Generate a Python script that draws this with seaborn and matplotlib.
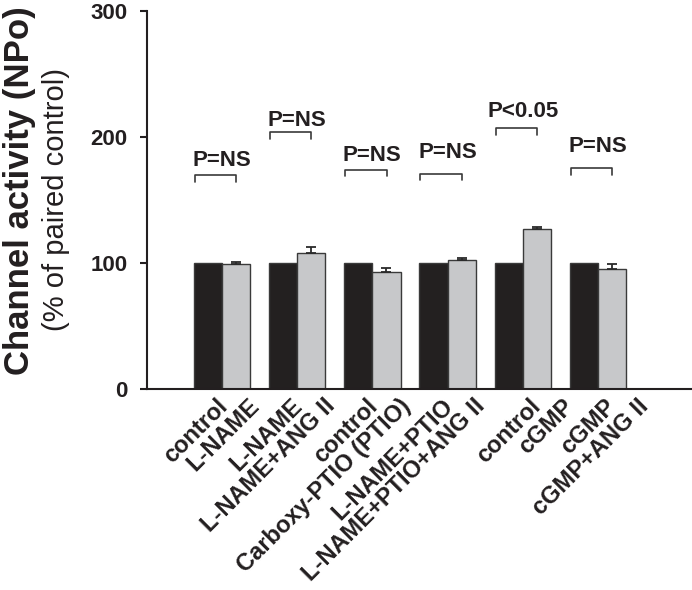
# Channel activity bar chart (paired control vs treatment)
import matplotlib
matplotlib.use('Agg')
import matplotlib.pyplot as plt
import matplotlib.transforms as mtransforms
import seaborn as sns
import pandas as pd

sns.set_style("ticks")
plt.rcParams['font.family'] = ['Liberation Sans', 'DejaVu Sans']
plt.rcParams['font.weight'] = 'bold'

# -------------------- data --------------------
pairs = ['p1', 'p2', 'p3', 'p4', 'p5', 'p6']
ctrl_labels = ['control', 'L-NAME', 'control', 'L-NAME+PTIO', 'control', 'cGMP']
trt_labels = ['L-NAME', 'L-NAME+ANG II', 'Carboxy-PTIO (PTIO)',
              'L-NAME+PTIO+ANG II', 'cGMP', 'cGMP+ANG II']
ctrl_values = [100, 100, 100, 100, 100, 100]
trt_values = [99, 108, 93, 102, 127, 95]
trt_err = [1.5, 5.0, 2.6, 2.0, 1.8, 4.3]
p_labels = ['P=NS', 'P=NS', 'P=NS', 'P=NS', 'P<0.05', 'P=NS']

# annotation heights (data units)
bracket_top = [170, 204, 174, 171, 207, 175.5]
p_text_y = [177, 209, 181, 183, 216, 188]
# the original labels were placed by hand: small extra x nudges per pair (points)
label_nudge = [0, 0, 0, 0, 9, 9]

df = pd.DataFrame({
    'pair': pairs + pairs,
    'cond': ['ctrl'] * 6 + ['trt'] * 6,
    'value': ctrl_values + trt_values,
})

BLACK = '#231f20'
GRAY = '#c7c8ca'

# -------------------- figure --------------------
fig = plt.figure(figsize=(6.92, 5.9), dpi=100)
ax = fig.add_axes([0.212, 0.3412, 0.788, 0.6396])

sns.barplot(data=df, x='pair', y='value', hue='cond', palette=[BLACK, GRAY],
            width=0.75, gap=0, errorbar=None, edgecolor='#3a3a3a',
            linewidth=1, legend=False, ax=ax)

centers = list(range(len(pairs)))
bars = sorted([p for p in ax.patches if p.get_width() > 0], key=lambda p: p.get_x())
bar_x = [b.get_x() + b.get_width() / 2 for b in bars]
trt_bars = bars[1::2]

# upward-only error bars on treatment bars
ax.errorbar([b.get_x() + b.get_width() / 2 for b in trt_bars],
            [b.get_height() for b in trt_bars],
            yerr=[[0] * len(trt_err), trt_err], fmt='none',
            ecolor='#2a2a2a', elinewidth=1.3, capsize=3.6, capthick=1.3, zorder=3)

# significance brackets + p labels
for c, top, ty, lab in zip(centers, bracket_top, p_text_y, p_labels):
    x0, x1 = c - 0.36, c + 0.19
    ax.plot([x0, x0, x1, x1], [top - 5.3, top, top, top - 5.3],
            color='#3a3a3a', lw=1.2, clip_on=False)
    ax.text(c, ty, lab, ha='center', va='baseline', fontsize=16,
            fontweight='bold', color='#231f20')

# axes styling
ax.set_ylim(0, 300)
ax.set_yticks([0, 100, 200, 300])
ax.set_xlabel('')
ax.set_ylabel('')
sns.despine(ax=ax)
for s in ['left', 'bottom']:
    ax.spines[s].set_linewidth(1.5)
    ax.spines[s].set_color('#231f20')
ax.tick_params(axis='y', direction='out', length=5, width=1.5, pad=9,
               labelsize=16, colors='#231f20')
for t in ax.get_yticklabels():
    t.set_fontweight('bold')

# one rotated label per bar
tick_labels = []
for a, b in zip(ctrl_labels, trt_labels):
    tick_labels += [a, b]
ax.set_xticks(bar_x)
ax.set_xticklabels(tick_labels, rotation=45, ha='right', va='center',
                   rotation_mode='anchor', fontsize=17, fontweight='bold',
                   color='#231f20')
ax.tick_params(axis='x', length=0, pad=0)
for i, t in enumerate(ax.get_xticklabels()):
    dx = 11.5 + label_nudge[i // 2] + (3 if i % 2 else 0)
    dy = -10
    offset = mtransforms.ScaledTranslation(dx / 72, dy / 72, fig.dpi_scale_trans)
    t.set_transform(t.get_transform() + offset)

ax.set_xlim(-1.0, 6.25)

# two-line y label
fig.text(0.028, 0.677, 'Channel activity (NPo)', rotation=90, ha='center',
         va='center', fontsize=25, fontweight='bold', color='#231f20')
fig.text(0.081, 0.662, '(% of paired control)', rotation=90, ha='center',
         va='center', fontsize=21, fontweight='normal', color='#231f20')

fig.savefig('out.png', dpi=100)
